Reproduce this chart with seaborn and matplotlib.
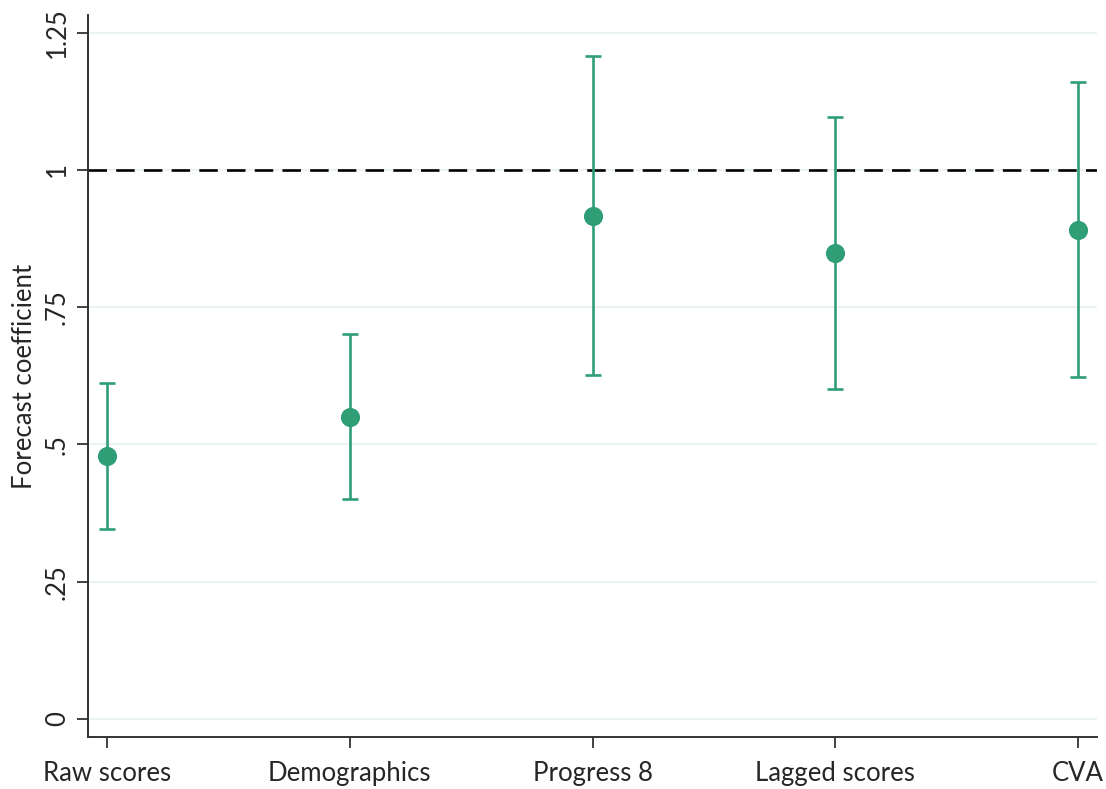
import pandas as pd
import matplotlib.pyplot as plt
import seaborn as sns

# Estimates
models = ["Raw scores", "Demographics", "Progress 8", "Lagged scores", "CVA"]
coef = [0.479, 0.550, 0.916, 0.849, 0.891]
ci_low = [0.346, 0.401, 0.627, 0.601, 0.623]
ci_high = [0.612, 0.701, 1.208, 1.097, 1.160]
yticks = [0, 0.25, 0.5, 0.75, 1, 1.25]
ytick_labels = ["0", ".25", ".5", ".75", "1", "1.25"]

df = pd.DataFrame({"model": models, "coef": coef, "lo": ci_low, "hi": ci_high})

green = "#2f9e77"

sns.set_style("white")
plt.rcParams["font.family"] = ["Lato", "DejaVu Sans"]

fig = plt.figure(figsize=(11.06, 7.89), dpi=100)
ax = fig.add_axes([0.0796, 0.0659, 0.9123, 0.915])

x = range(len(models))
ax.errorbar(x, df["coef"], yerr=[df["coef"] - df["lo"], df["hi"] - df["coef"]],
            fmt="none", ecolor=green, elinewidth=1.9, capsize=6, capthick=1.9, zorder=3)
sns.scatterplot(data=df, x="model", y="coef", color=green, s=190, edgecolor=green,
                linewidth=0, ax=ax, zorder=4)

# Reference line
ax.axhline(1, color="black", lw=1.9, dashes=(7, 3.5), zorder=2)

ax.set_xlim(-0.078, 4.078)
ax.set_ylim(-0.033, 1.282)
ax.set_yticks(yticks)
ax.set_yticklabels(ytick_labels, rotation=90, va="center")
for t in yticks:
    ax.axhline(t, color="#e9f1f2", lw=1.3, zorder=1)

ax.set_xlabel("")
ax.set_ylabel("Forecast coefficient", fontsize=18.5, labelpad=6)
ax.tick_params(axis="both", labelsize=18.5, direction="out", length=8, width=1.3,
               color="#333333", left=True, bottom=True)
ax.tick_params(axis="x", pad=9)
ax.tick_params(axis="y", pad=5)

sns.despine(ax=ax)
for s in ["left", "bottom"]:
    ax.spines[s].set_color("#333333")
    ax.spines[s].set_linewidth(1.4)

plt.savefig("out.png", dpi=100)
